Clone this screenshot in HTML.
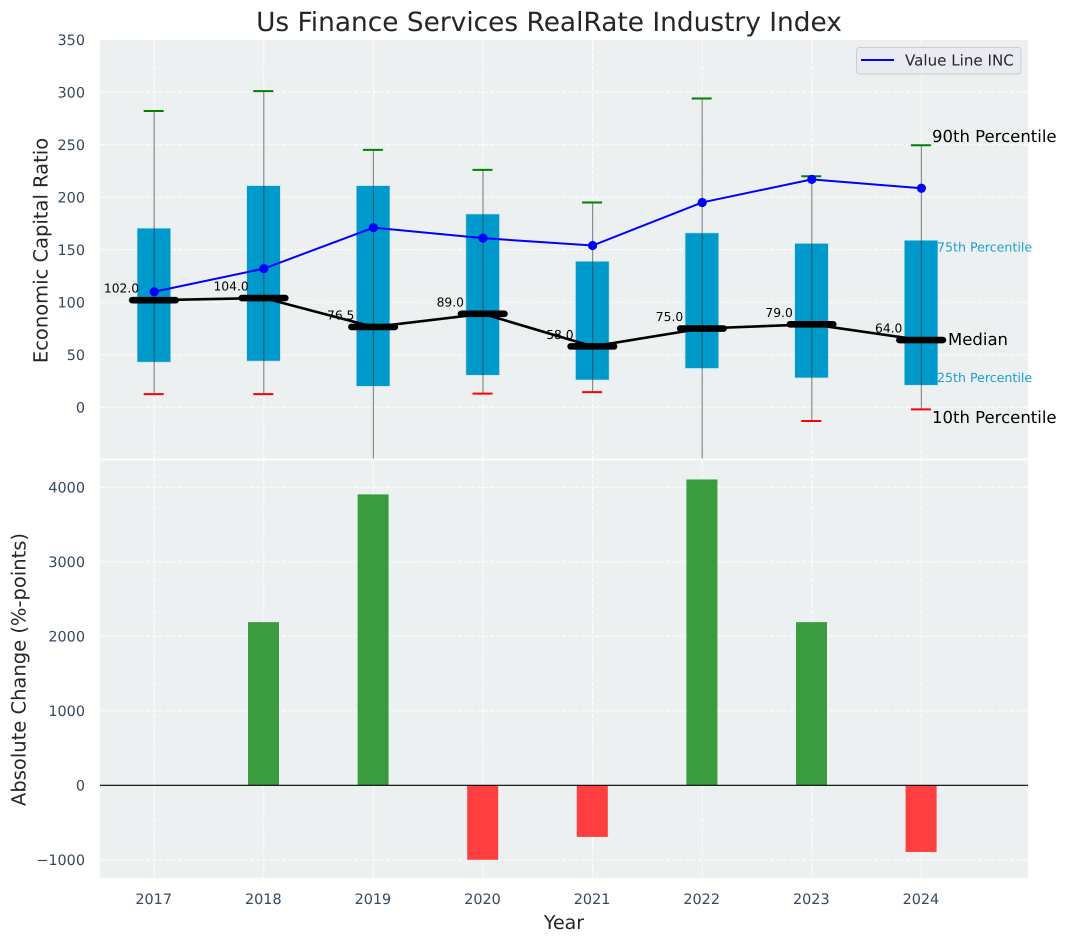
<!DOCTYPE html>
<html>
<head>
<meta charset="utf-8">
<title>Us Finance Services RealRate Industry Index</title>
<style>
html,body{margin:0;padding:0;background:#fff;}
svg{display:block;font-family:"DejaVu Sans","Liberation Sans",sans-serif;text-rendering:geometricPrecision;}
</style>
</head>
<body>
<svg id="chart" xmlns="http://www.w3.org/2000/svg" width="1067" height="942" viewBox="0 0 1067 942">
<defs>
<clipPath id="clip-top"><rect x="100" y="40" width="928" height="418.5"/></clipPath>
<clipPath id="clip-bottom"><rect x="100" y="460.5" width="928" height="417.5"/></clipPath>
</defs>
</svg>
<script>
const years = [2017, 2018, 2019, 2020, 2021, 2022, 2023, 2024];
const p90 = [282, 301, 245, 226, 195, 294, 220, 249.5];
const p75 = [170.5, 211, 211, 184, 139, 166, 156, 159];
const medians = [102, 104, 76.5, 89, 58, 75, 79, 64];
const p25 = [43, 44, 20, 30.5, 26, 37, 28, 21];
const p10 = [12.5, 12.5, -60, 13, 14.5, -60, -13, -2];
const companyValues = [110, 132, 171, 161, 154, 195, 217, 208.5];
const changes = [0, 2190, 3905, -1000, -693, 4105, 2190, -895];
const topTicks = [0, 50, 100, 150, 200, 250, 300, 350];
const bottomTicks = [-1000, 0, 1000, 2000, 3000, 4000];

const svg = document.getElementById('chart');
const NS = 'http://www.w3.org/2000/svg';
const xScale = y => 154.2 + (y - 2017) * 109.6;
const yTop = v => 407.3 - v * 1.0505;
const yBottom = v => 785.3 - v * 0.0745;

function mk(parent, tag, props, content) {
  const node = document.createElementNS(NS, tag);
  for (const k in props) node.setAttribute(k, props[k]);
  if (content !== undefined) node.textContent = content;
  parent.appendChild(node);
  return node;
}
const tickColor = '#34495e';
const textColor = '#262626';
let el;

el = mk(svg, 'rect', {x: 100, y: 40, width: 928, height: 418.5, fill: '#ecf0f1'});



el = mk(svg, 'rect', {x: 100, y: 460.5, width: 928, height: 417.5, fill: '#ecf0f1'});



el = mk(svg, 'text', {x: 549, y: 31, 'font-size': 26.4, fill: textColor, 'text-anchor': 'middle'}, 'Us Finance Services RealRate Industry Index');



const gridAttrs = {stroke: '#ffffff', 'stroke-width': 1.1, 'stroke-dasharray': '4.5 2', 'stroke-opacity': 0.85};

topTicks.forEach(t => {
  if (t < 350) {
    const g = mk(svg, 'line', Object.assign({x1: 100, x2: 1028, y1: yTop(t), y2: yTop(t)}, gridAttrs));
    
    
  }
  const l = mk(svg, 'text', {x: 85, y: yTop(t) + 5.2, 'font-size': 14.4, fill: tickColor, 'text-anchor': 'end'}, String(t));
  
  
});

bottomTicks.forEach(t => {
  const g = mk(svg, 'line', Object.assign({x1: 100, x2: 1028, y1: yBottom(t), y2: yBottom(t)}, gridAttrs));
  
  
  const l = mk(svg, 'text', {x: 85, y: yBottom(t) + 5.2, 'font-size': 14.4, fill: tickColor, 'text-anchor': 'end'}, String(t).replace('-', '\u2212'));
  
  
});

years.forEach(y => {
  const g1 = mk(svg, 'line', Object.assign({x1: xScale(y), x2: xScale(y), y1: 40, y2: 458.5}, gridAttrs));
  
  
  const g2 = mk(svg, 'line', Object.assign({x1: xScale(y), x2: xScale(y), y1: 460.5, y2: 878}, gridAttrs));
  
  
  const l = mk(svg, 'text', {x: xScale(y) - 0.5, y: 904, 'font-size': 14.4, fill: tickColor, 'text-anchor': 'middle'}, String(y));
  
  
});

const topArea = mk(svg, 'g', {'clip-path': 'url(#clip-top)'});



years.forEach((y, i) => {
  const x = xScale(y);
  const b = mk(topArea, 'rect', {x: x - 17.1, y: yTop(p75[i]), width: 33.6, height: yTop(p25[i]) - yTop(p75[i]), fill: '#0099cc', stroke: '#bfe3ef', 'stroke-width': 0.6});
  
  
  const w = mk(topArea, 'line', {x1: x, x2: x, y1: yTop(p90[i]), y2: yTop(p10[i]), stroke: '#333333', 'stroke-opacity': 0.55, 'stroke-width': 1.2});
  
  
  const c1 = mk(topArea, 'line', {x1: x - 10.5, x2: x + 9.5, y1: yTop(p90[i]), y2: yTop(p90[i]), stroke: '#008000', 'stroke-width': 2});
  
  
  const c2 = mk(topArea, 'line', {x1: x - 10.5, x2: x + 9.5, y1: yTop(p10[i]), y2: yTop(p10[i]), stroke: '#ff0000', 'stroke-width': 2});
  
  
  const t = mk(topArea, 'text', {x: x - 32.7, y: yTop(medians[i]) - 7.5, 'font-size': 12.3, fill: '#000000', 'text-anchor': 'middle'}, medians[i].toFixed(1));
  
  
});

const medianLine = mk(topArea, 'polyline', {points: years.map((y, i) => xScale(y) + ',' + yTop(medians[i])).join(' '), fill: 'none', stroke: '#000000', 'stroke-width': 2.6});



years.forEach((y, i) => {
  const x = xScale(y);
  const m = mk(topArea, 'line', {x1: x - 22, x2: x + 21.5, y1: yTop(medians[i]), y2: yTop(medians[i]), stroke: '#000000', 'stroke-width': 6.6, 'stroke-linecap': 'round'});
  
  
});

const companyLine = mk(topArea, 'polyline', {points: years.map((y, i) => xScale(y) + ',' + yTop(companyValues[i])).join(' '), fill: 'none', stroke: '#0000ff', 'stroke-width': 2});



years.forEach((y, i) => {
  const p = mk(topArea, 'circle', {cx: xScale(y), cy: yTop(companyValues[i]), r: 4.6, fill: '#0000ff'});
  
  
});

const bottomArea = mk(svg, 'g', {'clip-path': 'url(#clip-bottom)'});



years.forEach((y, i) => {
  if (changes[i] === 0) return;
  const y0 = Math.min(yBottom(0), yBottom(changes[i]));
  const h = Math.abs(yBottom(changes[i]) - yBottom(0));
  const b = mk(bottomArea, 'rect', {x: xScale(y) - 15.8, y: y0, width: 31, height: h, fill: changes[i] > 0 ? '#3b9c3f' : '#ff3f3f'});
  
  
});

el = mk(bottomArea, 'line', {x1: 100, x2: 1028, y1: yBottom(0), y2: yBottom(0), stroke: '#000000', 'stroke-width': 1.2});



el = mk(svg, 'text', {x: 41, y: 250.5, 'font-size': 19.5, fill: textColor, 'text-anchor': 'middle', 'dominant-baseline': 'central', transform: 'rotate(-90 41 250.5)'}, 'Economic Capital Ratio');



el = mk(svg, 'text', {x: 19, y: 669.5, 'font-size': 19.5, fill: textColor, 'text-anchor': 'middle', 'dominant-baseline': 'central', transform: 'rotate(-90 19 669.5)'}, 'Absolute Change (%-points)');



el = mk(svg, 'text', {x: 564, y: 929, 'font-size': 19, fill: textColor, 'text-anchor': 'middle'}, 'Year');



el = mk(svg, 'text', {x: 932, y: 142, 'font-size': 16.5, fill: '#000000'}, '90th Percentile');



el = mk(svg, 'text', {x: 937, y: 251.5, 'font-size': 12.6, fill: '#1a9fd0'}, '75th Percentile');



el = mk(svg, 'text', {x: 948, y: 345, 'font-size': 16.5, fill: '#000000'}, 'Median');



el = mk(svg, 'text', {x: 937, y: 382, 'font-size': 12.6, fill: '#1a9fd0'}, '25th Percentile');



el = mk(svg, 'text', {x: 932, y: 423, 'font-size': 16.5, fill: '#000000'}, '10th Percentile');



const legendGroup = mk(svg, 'g', {});



el = mk(legendGroup, 'rect', {x: 856.5, y: 47.5, width: 164.5, height: 26.5, rx: 3, fill: '#eaeaf2', 'fill-opacity': 0.9, stroke: '#cccccc', 'stroke-width': 1});



el = mk(legendGroup, 'line', {x1: 861, x2: 894, y1: 60, y2: 60, stroke: '#0000ff', 'stroke-width': 2});



el = mk(legendGroup, 'text', {x: 905, y: 65.5, 'font-size': 15.1, fill: textColor}, 'Value Line INC');


</script>
</body>
</html>
